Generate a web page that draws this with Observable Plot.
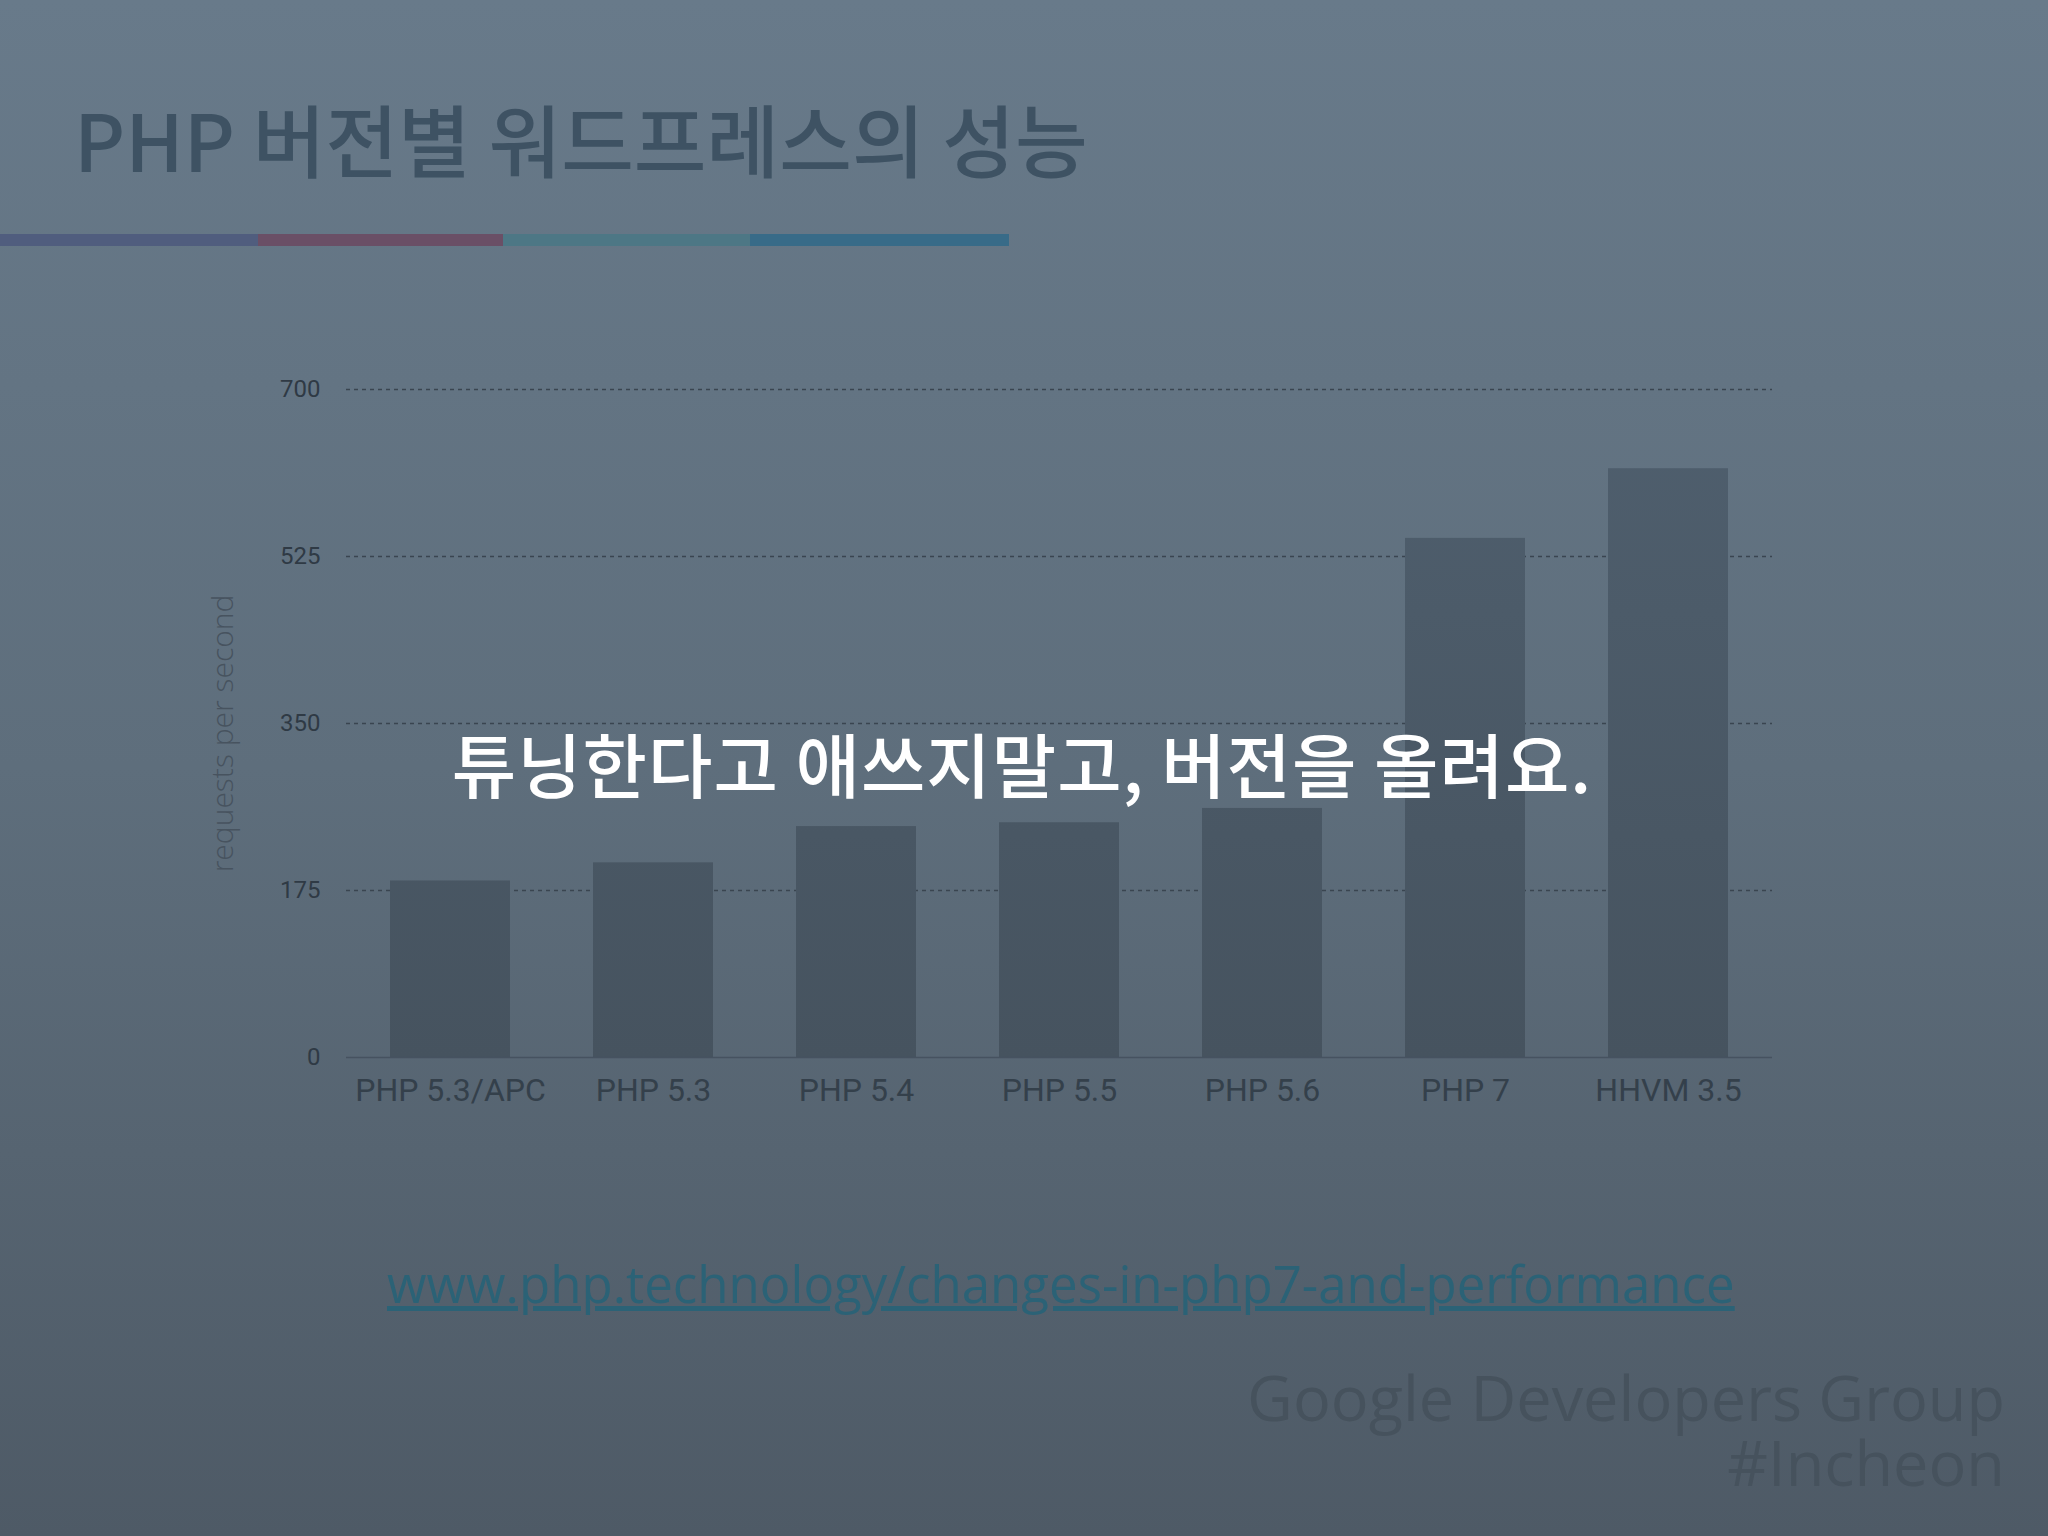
<!DOCTYPE html>
<html>
<head>
<meta charset="utf-8">
<script src="https://cdn.jsdelivr.net/npm/d3@7"></script>
<script src="https://cdn.jsdelivr.net/npm/@observablehq/plot@0.6"></script>
<style>
  html, body { margin: 0; padding: 0; }
  body {
    width: 2048px; height: 1536px; position: relative; overflow: hidden;
    background: linear-gradient(180deg, #687a8a 0%, #5e6e7c 50%, #4e5a66 100%);
    font-family: "Noto Sans CJK KR", "Noto Sans", sans-serif;
  }
  #title {
    position: absolute; left: 74px; top: 98px; margin: 0;
    font-family: "Noto Sans CJK KR"; font-weight: 500; font-size: 79px; line-height: 1;
    color: #3e5263; white-space: nowrap;
  }
  .seg { position: absolute; top: 234px; height: 12px; }
  #chart { position: absolute; left: 0; top: 0; }
  #overlay {
    position: absolute; left: -2px; width: 2048px; top: 728px; text-align: center;
    font-family: "Noto Sans CJK KR"; font-weight: 500; font-size: 70px; line-height: 1;
    letter-spacing: 1px; color: #ffffff; white-space: nowrap;
  }
  #link {
    position: absolute; left: 387px; top: 1258px;
    font-family: "Open Sans"; font-size: 51px; line-height: 1;
    color: #2b6276; text-decoration: underline; white-space: nowrap;
  }
  #footer {
    position: absolute; right: 43px; top: 1364px; text-align: right;
    font-family: "Open Sans"; font-size: 63px; line-height: 65px;
    color: #46525d; white-space: nowrap;
  }
</style>
</head>
<body>
<div id="title"></div>
<div id="segs"></div>
<div id="chart"></div>
<div id="overlay"></div>
<div id="link"></div>
<div id="footer"></div>
<script>
// ---- data ----
const titleText = "PHP 버전별 워드프레스의 성능";
const overlayText = "튜닝한다고 애쓰지말고, 버전을 올려요.";
const linkText = "www.php.technology/changes-in-php7-and-performance";
const footerLines = ["Google Developers Group", "#Incheon"];
const yLabel = "requests per second";

const versions = ["PHP 5.3/APC", "PHP 5.3", "PHP 5.4", "PHP 5.5", "PHP 5.6", "PHP 7", "HHVM 3.5"];
const requestsPerSecond = [185, 204, 242, 246, 261, 544, 617];
const yTicks = [0, 175, 350, 525, 700];

const accentColors = ["#505d7e", "#6a4f66", "#4d7785", "#386b88"];
const accentEdges = [0, 258, 503, 750, 1009];

// ---- texts ----
document.getElementById("title").textContent = titleText;
document.getElementById("overlay").textContent = overlayText;
document.getElementById("link").textContent = linkText;
document.getElementById("footer").innerHTML = footerLines.join("<br>");

const segs = document.getElementById("segs");
accentColors.forEach((c, i) => {
  const d = document.createElement("div");
  d.className = "seg";
  d.style.left = accentEdges[i] + "px";
  d.style.width = (accentEdges[i + 1] - accentEdges[i]) + "px";
  d.style.background = c;
  segs.appendChild(d);
});

// ---- chart ----
const data = versions.map((v, i) => ({version: v, rps: requestsPerSecond[i]}));

const chart = Plot.plot({
  width: 2048,
  height: 1150,
  marginLeft: 346,
  marginRight: 276,
  marginTop: 389,
  marginBottom: 93,
  style: {background: "transparent", fontFamily: "Roboto", overflow: "visible"},
  x: {domain: versions, paddingInner: 0.41, paddingOuter: 0.205, label: null},
  y: {domain: [0, 700], label: null},
  marks: [
    Plot.gridY(yTicks.filter(t => t > 0), {stroke: "#3a4550", strokeOpacity: 1, strokeWidth: 1.5, strokeDasharray: "4,4"}),
    Plot.barY(data, {x: "version", y: "rps", fill: "url(#barGrad)"}),
    Plot.ruleY([0], {stroke: "#465260", strokeWidth: 1.5}),
    Plot.axisY(yTicks, {tickSize: 0, tickPadding: 26, fontSize: 24, fill: "#2f3a45", label: null, fontFamily: "Roboto"}),
    Plot.axisX({tickSize: 0, tickPadding: 21, fontSize: 32, fill: "#34404b", label: null, fontFamily: "Roboto"}),
    Plot.text([yLabel], {frameAnchor: "left", textAnchor: "middle", rotate: -90, dx: -123, dy: 10, fontSize: 30, fontWeight: 300, fontFamily: "Open Sans", fill: "#47535f", lineAnchor: "middle"})
  ]
});

// gradient for bars
const ns = "http://www.w3.org/2000/svg";
const defs = document.createElementNS(ns, "defs");
const grad = document.createElementNS(ns, "linearGradient");
grad.setAttribute("id", "barGrad");
grad.setAttribute("gradientUnits", "userSpaceOnUse");
grad.setAttribute("x1", "0"); grad.setAttribute("x2", "0");
grad.setAttribute("y1", "389"); grad.setAttribute("y2", "1057");
[["0%", "#4f5f6e"], ["100%", "#46535f"]].forEach(([o, c]) => {
  const s = document.createElementNS(ns, "stop");
  s.setAttribute("offset", o); s.setAttribute("stop-color", c);
  grad.appendChild(s);
});
defs.appendChild(grad);
chart.insertBefore(defs, chart.firstChild);

document.getElementById("chart").appendChild(chart);
</script>
</body>
</html>
